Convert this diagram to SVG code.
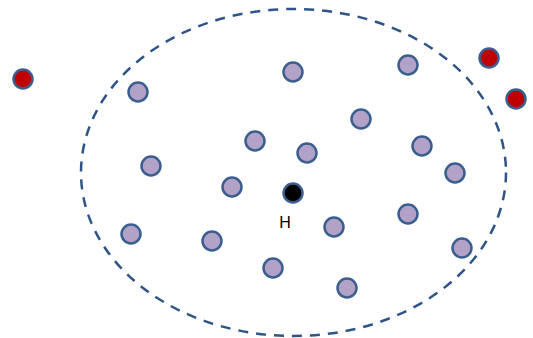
<svg xmlns="http://www.w3.org/2000/svg" width="533" height="338" viewBox="0 0 533 338">
<style>
.n{stroke:#3A5F8F;stroke-width:2.5}
.p{fill:#B3A2C7}
.r{fill:#C00000}
.b{fill:#000000}
.lbl{font-family:"Liberation Sans",Arial,sans-serif;font-size:16px;fill:#000}
</style>
<rect width="533" height="338" fill="#fff"/>
<g id="boundary">
<ellipse cx="293.5" cy="172.5" rx="212.5" ry="163.5" fill="none" stroke="#2F5587" stroke-width="2.5" stroke-dasharray="10,8"/>
</g>
<g id="red1"><circle class="n r" cx="23" cy="79" r="9.5"/></g>
<g id="red2"><circle class="n r" cx="489" cy="58" r="9.5"/></g>
<g id="red3"><circle class="n r" cx="516" cy="99" r="9.5"/></g>
<g id="p1"><circle class="n p" cx="138" cy="92" r="9.5"/></g>
<g id="p2"><circle class="n p" cx="293" cy="72" r="9.5"/></g>
<g id="p3"><circle class="n p" cx="408" cy="65" r="9.5"/></g>
<g id="p4"><circle class="n p" cx="361" cy="119" r="9.5"/></g>
<g id="p5"><circle class="n p" cx="255" cy="141" r="9.5"/></g>
<g id="p6"><circle class="n p" cx="307" cy="153" r="9.5"/></g>
<g id="p7"><circle class="n p" cx="422" cy="146" r="9.5"/></g>
<g id="p8"><circle class="n p" cx="151" cy="166" r="9.5"/></g>
<g id="p9"><circle class="n p" cx="455" cy="173" r="9.5"/></g>
<g id="p10"><circle class="n p" cx="232" cy="187" r="9.5"/></g>
<g id="p11"><circle class="n p" cx="131" cy="234" r="9.5"/></g>
<g id="p12"><circle class="n p" cx="212" cy="241" r="9.5"/></g>
<g id="p13"><circle class="n p" cx="334" cy="227" r="9.5"/></g>
<g id="p14"><circle class="n p" cx="408" cy="214" r="9.5"/></g>
<g id="p15"><circle class="n p" cx="462" cy="248" r="9.5"/></g>
<g id="p16"><circle class="n p" cx="273" cy="268" r="9.5"/></g>
<g id="p17"><circle class="n p" cx="347" cy="288" r="9.5"/></g>
<g id="H"><circle class="n b" cx="293" cy="193" r="9.5"/><text class="lbl" x="285" y="228" text-anchor="middle">H</text></g>
<g id="connectors"></g>
</svg>
